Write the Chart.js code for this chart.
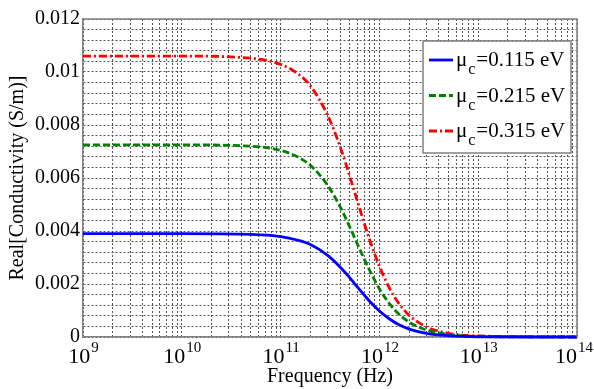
<!DOCTYPE html>
<html>
<head>
<meta charset="utf-8">
<script src="https://cdn.jsdelivr.net/npm/chart.js@4.4.0/dist/chart.umd.min.js"></script>
<style>
  html, body { margin: 0; padding: 0; background: #fff; }
</style>
</head>
<body>
<canvas id="myChart" width="594" height="389"></canvas>
<script>
// frequencies (Hz) and the real part of the conductivity (S/m)
var freqs = [1e9, 1e10, 5e10, 1e11, 1.5e11, 2e11, 3e11, 4e11, 5e11, 6e11, 7e11, 8e11, 1e12, 1.3e12, 1.6e12, 2e12, 3e12, 5e12, 1e13, 1e14];
var sigmaLow = [0.0039, 0.0039, 0.00387, 0.00379, 0.00365, 0.00349, 0.00308, 0.00264, 0.00224, 0.00188, 0.00159, 0.00134, 0.00098, 0.00065, 0.00045, 0.0003, 0.00014, 0.00005, 0.00001, 0];
var sigmaMid = [0.00725, 0.00725, 0.0072, 0.00704, 0.00679, 0.00648, 0.00572, 0.00492, 0.00416, 0.0035, 0.00295, 0.0025, 0.00182, 0.0012, 0.00084, 0.00056, 0.00026, 0.0001, 0.00002, 0];
var sigmaHigh = [0.0106, 0.0106, 0.01052, 0.01029, 0.00993, 0.00948, 0.00836, 0.00719, 0.00608, 0.00512, 0.00431, 0.00365, 0.00267, 0.00176, 0.00123, 0.00082, 0.00038, 0.00014, 0.00004, 0];
var muValues = ['0.115', '0.215', '0.315'];

var xDecades = [1e9, 1e10, 1e11, 1e12, 1e13, 1e14];
var xExponents = ['9', '10', '11', '12', '13', '14'];
var yTickLabels = ['0', '0.002', '0.004', '0.006', '0.008', '0.01', '0.012'];
var yMinorCount = 5; // grid lines between two labels

var serif = '"Liberation Serif", "DejaVu Serif", serif';

function toPoints(ys) {
    return freqs.map(function (f, i) { return { x: f, y: ys[i] }; });
}

// grid at 1..9 x each decade
var xGridValues = [];
xDecades.forEach(function (d, i) {
    if (i === xDecades.length - 1) { xGridValues.push(d); return; }
    for (var k = 1; k <= 9; k++) xGridValues.push(k * d);
});

var yStep = 0.002 / yMinorCount;
var yGridValues = [];
for (var i = 0; i <= (yTickLabels.length - 1) * yMinorCount; i++) {
    yGridValues.push(Math.round(i * yStep * 1e6) / 1e6);
}

var datasets = [
    { label: muValues[0], data: toPoints(sigmaLow), borderColor: '#0000ff', borderDash: [] },
    { label: muValues[1], data: toPoints(sigmaMid), borderColor: '#008000', borderDash: [7, 3] },
    { label: muValues[2], data: toPoints(sigmaHigh), borderColor: '#ff0000', borderDash: [8, 3, 2, 3] }
];
datasets.forEach(function (ds) {
    ds.borderWidth = 2.8;
    ds.pointRadius = 0;
    ds.fill = false;
    ds.cubicInterpolationMode = 'monotone';
    ds.clip = 4;
});

// top/right frame, decade labels with exponents, legend with subscript
var extras = {
    id: 'extras',
    afterDatasetsDraw: function (chart) {
        var ctx = chart.ctx;
        var area = chart.chartArea;
        var xs = chart.scales.x;

        ctx.save();
        ctx.strokeStyle = '#808080';
        ctx.lineWidth = 1.5;
        ctx.beginPath();
        ctx.moveTo(area.left, area.top);
        ctx.lineTo(area.right, area.top);
        ctx.lineTo(area.right, area.bottom);
        ctx.stroke();

        // x tick labels: 10^n
        ctx.fillStyle = '#000';
        ctx.textBaseline = 'alphabetic';
        ctx.textAlign = 'left';
        xDecades.forEach(function (d, i) {
            var px = xs.getPixelForValue(d);
            ctx.font = '22px ' + serif;
            var wBase = ctx.measureText('10').width;
            ctx.font = '15px ' + serif;
            var wExp = ctx.measureText(xExponents[i]).width;
            var left = px - (wBase + wExp) / 2;
            // keep the last label inside the canvas
            left = Math.min(left, chart.width - 2 - wBase - wExp);
            ctx.font = '22px ' + serif;
            ctx.fillText('10', left, area.bottom + 26);
            ctx.font = '15px ' + serif;
            ctx.fillText(xExponents[i], left + wBase + 1, area.bottom + 15);
        });

        // legend
        var bw = 148, bh = 112;
        var bx = area.right - 6 - bw, by = area.top + 22;
        ctx.fillStyle = '#fff';
        ctx.fillRect(bx, by, bw, bh);
        ctx.strokeStyle = '#808080';
        ctx.lineWidth = 1.5;
        ctx.strokeRect(bx, by, bw, bh);
        datasets.forEach(function (ds, i) {
            var ly = by + 19 + i * 35.5;
            ctx.save();
            ctx.strokeStyle = ds.borderColor;
            ctx.lineWidth = 2.8;
            ctx.setLineDash(ds.borderDash);
            ctx.beginPath();
            ctx.moveTo(bx + 6, ly);
            ctx.lineTo(bx + 30, ly);
            ctx.stroke();
            ctx.restore();

            var tx = bx + 33;
            ctx.fillStyle = '#000';
            ctx.font = '21px ' + serif;
            ctx.fillText('\u03bc', tx, ly + 6);
            tx += ctx.measureText('\u03bc').width + 1;
            ctx.font = '16px ' + serif;
            ctx.fillText('c', tx, ly + 14);
            tx += ctx.measureText('c').width + 1;
            ctx.font = '21px ' + serif;
            ctx.fillText('=' + ds.label + ' eV', tx, ly + 6);
        });
        ctx.restore();
    }
};

var ctxChart = document.getElementById('myChart').getContext('2d');
var myChart = new Chart(ctxChart, {
    type: 'line',
    data: { datasets: datasets },
    options: {
        responsive: false,
        animation: false,
        devicePixelRatio: 1,
        layout: { padding: { left: 0, right: 17, top: 19, bottom: 0 } },
        plugins: {
            legend: { display: false },
            tooltip: { enabled: false }
        },
        scales: {
            x: {
                type: 'logarithmic',
                min: 1e9,
                max: 1e14,
                afterBuildTicks: function (scale) {
                    scale.ticks = xGridValues.map(function (v) { return { value: v }; });
                },
                afterFit: function (scale) { scale.height = 52; },
                ticks: { display: false },
                grid: { color: '#555', lineWidth: 1, drawTicks: false },
                border: { display: true, color: '#808080', width: 1.5, dash: [2, 2] },
                title: {
                    display: true,
                    text: 'Frequency (Hz)',
                    color: '#000',
                    font: { family: serif, size: 20 },
                    padding: { top: 0, bottom: 0 }
                }
            },
            y: {
                type: 'linear',
                min: 0,
                max: 0.012,
                afterBuildTicks: function (scale) {
                    scale.ticks = yGridValues.map(function (v) { return { value: v }; });
                },
                afterFit: function (scale) { scale.width = 83; },
                ticks: {
                    autoSkip: false,
                    padding: 3,
                    color: '#000',
                    font: { family: serif, size: 20 },
                    callback: function (value, index) {
                        return index % yMinorCount === 0 ? yTickLabels[index / yMinorCount] : '';
                    }
                },
                grid: { color: '#555', lineWidth: 1, drawTicks: false },
                border: { display: true, color: '#808080', width: 1.5, dash: [2, 2] },
                title: {
                    display: true,
                    text: 'Real[Conductivity (S/m)]',
                    color: '#000',
                    font: { family: serif, size: 20 },
                    padding: { top: 6, bottom: 0 }
                }
            }
        }
    },
    plugins: [extras]
});
</script>
</body>
</html>
